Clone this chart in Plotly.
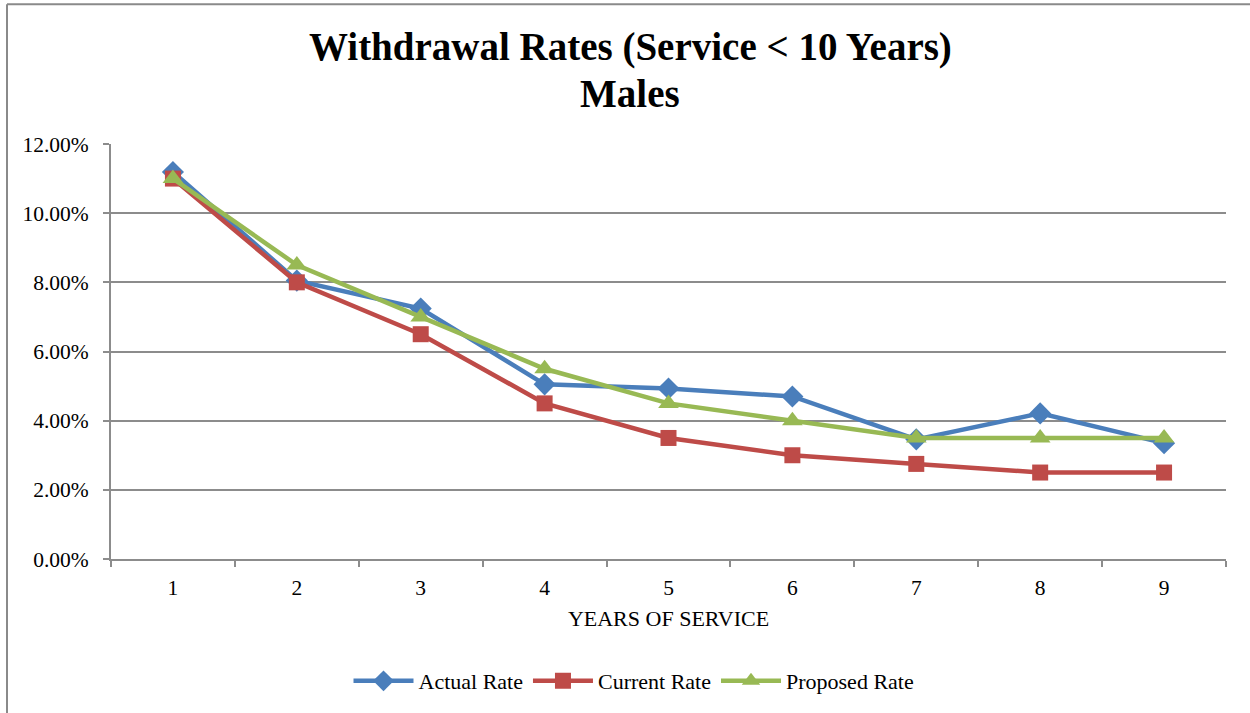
import plotly.graph_objects as go

# Withdrawal rates by completed years of service (males, service < 10 years)
years = ["1", "2", "3", "4", "5", "6", "7", "8", "9"]
actual_rate = [0.1119, 0.0805, 0.0724, 0.0505, 0.0493, 0.0470, 0.0346, 0.0421, 0.0335]
current_rate = [0.110, 0.080, 0.065, 0.045, 0.035, 0.030, 0.0275, 0.025, 0.025]
proposed_rate = [0.110, 0.085, 0.070, 0.055, 0.045, 0.040, 0.035, 0.035, 0.035]

W, H = 1250, 713
L, R, T, B = 111, 24, 144, 153
FONT = "Liberation Serif, Times New Roman, serif"
GRID = "#8c8c8c"

series = [
    ("Actual Rate", actual_rate, "#4A7EBB", "diamond", 17),
    ("Current Rate", current_rate, "#BE4B48", "square", 16),
    ("Proposed Rate", proposed_rate, "#98B954", "triangle-up", 18),
]

fig = go.Figure()
for name, vals, color, symbol, size in series:
    fig.add_trace(go.Scatter(
        x=years, y=vals, name=name, mode="lines+markers",
        line=dict(color=color, width=4.5),
        marker=dict(symbol=symbol, size=size, color=color, line=dict(width=0)),
    ))

# Helpers converting page pixels to paper coordinates
plot_w, plot_h = W - L - R, H - T - B
def px(x):
    return (x - L) / plot_w
def py(y):
    return (H - B - y) / plot_h

# Outer chart frame (top and left edges)
frame = dict(color="#8a8a8a", width=2)
fig.add_shape(type="line", xref="paper", yref="paper",
              x0=px(7), x1=px(W + 5), y0=py(4), y1=py(4), line=frame)
fig.add_shape(type="line", xref="paper", yref="paper",
              x0=px(7), x1=px(7), y0=py(4), y1=py(H + 5), line=frame)

# Chart title
fig.add_annotation(
    text="<b>Withdrawal Rates (Service < 10 Years)</b>",
    xref="paper", yref="paper", x=px(630), y=py(47),
    xanchor="center", yanchor="middle", showarrow=False,
    font=dict(family=FONT, size=39, color="black"),
)
fig.add_annotation(
    text="<b>Males</b>",
    xref="paper", yref="paper", x=px(630), y=py(93),
    xanchor="center", yanchor="middle", showarrow=False,
    font=dict(family=FONT, size=39, color="black"),
)

fig.update_layout(
    width=W, height=H,
    margin=dict(l=L, r=R, t=T, b=B),
    paper_bgcolor="white", plot_bgcolor="white",
    font=dict(family=FONT, size=21, color="black"),
    xaxis=dict(
        type="category", tickson="boundaries", ticks="outside", ticklen=6,
        tickcolor=GRID, tickwidth=2, showline=True, linecolor=GRID, linewidth=2,
        showgrid=False, range=[-0.5, 8.5], ticklabelstandoff=8,
        tickfont=dict(size=21.5),
        title=dict(text="YEARS OF SERVICE", font=dict(size=22), standoff=12),
    ),
    yaxis=dict(
        range=[0, 0.12], dtick=0.02, tickformat=".2%",
        ticks="outside", ticklen=6, tickcolor=GRID, tickwidth=2,
        showline=True, linecolor=GRID, linewidth=2, ticklabelstandoff=10,
        showgrid=True, gridcolor=GRID, gridwidth=1.5, zeroline=False,
        tickfont=dict(size=21.5),
    ),
    legend=dict(
        orientation="h", x=px(634), xanchor="center", y=py(681),
        yanchor="middle", font=dict(size=22), itemwidth=60,
    ),
    showlegend=True,
)

fig.write_html("out.html")
